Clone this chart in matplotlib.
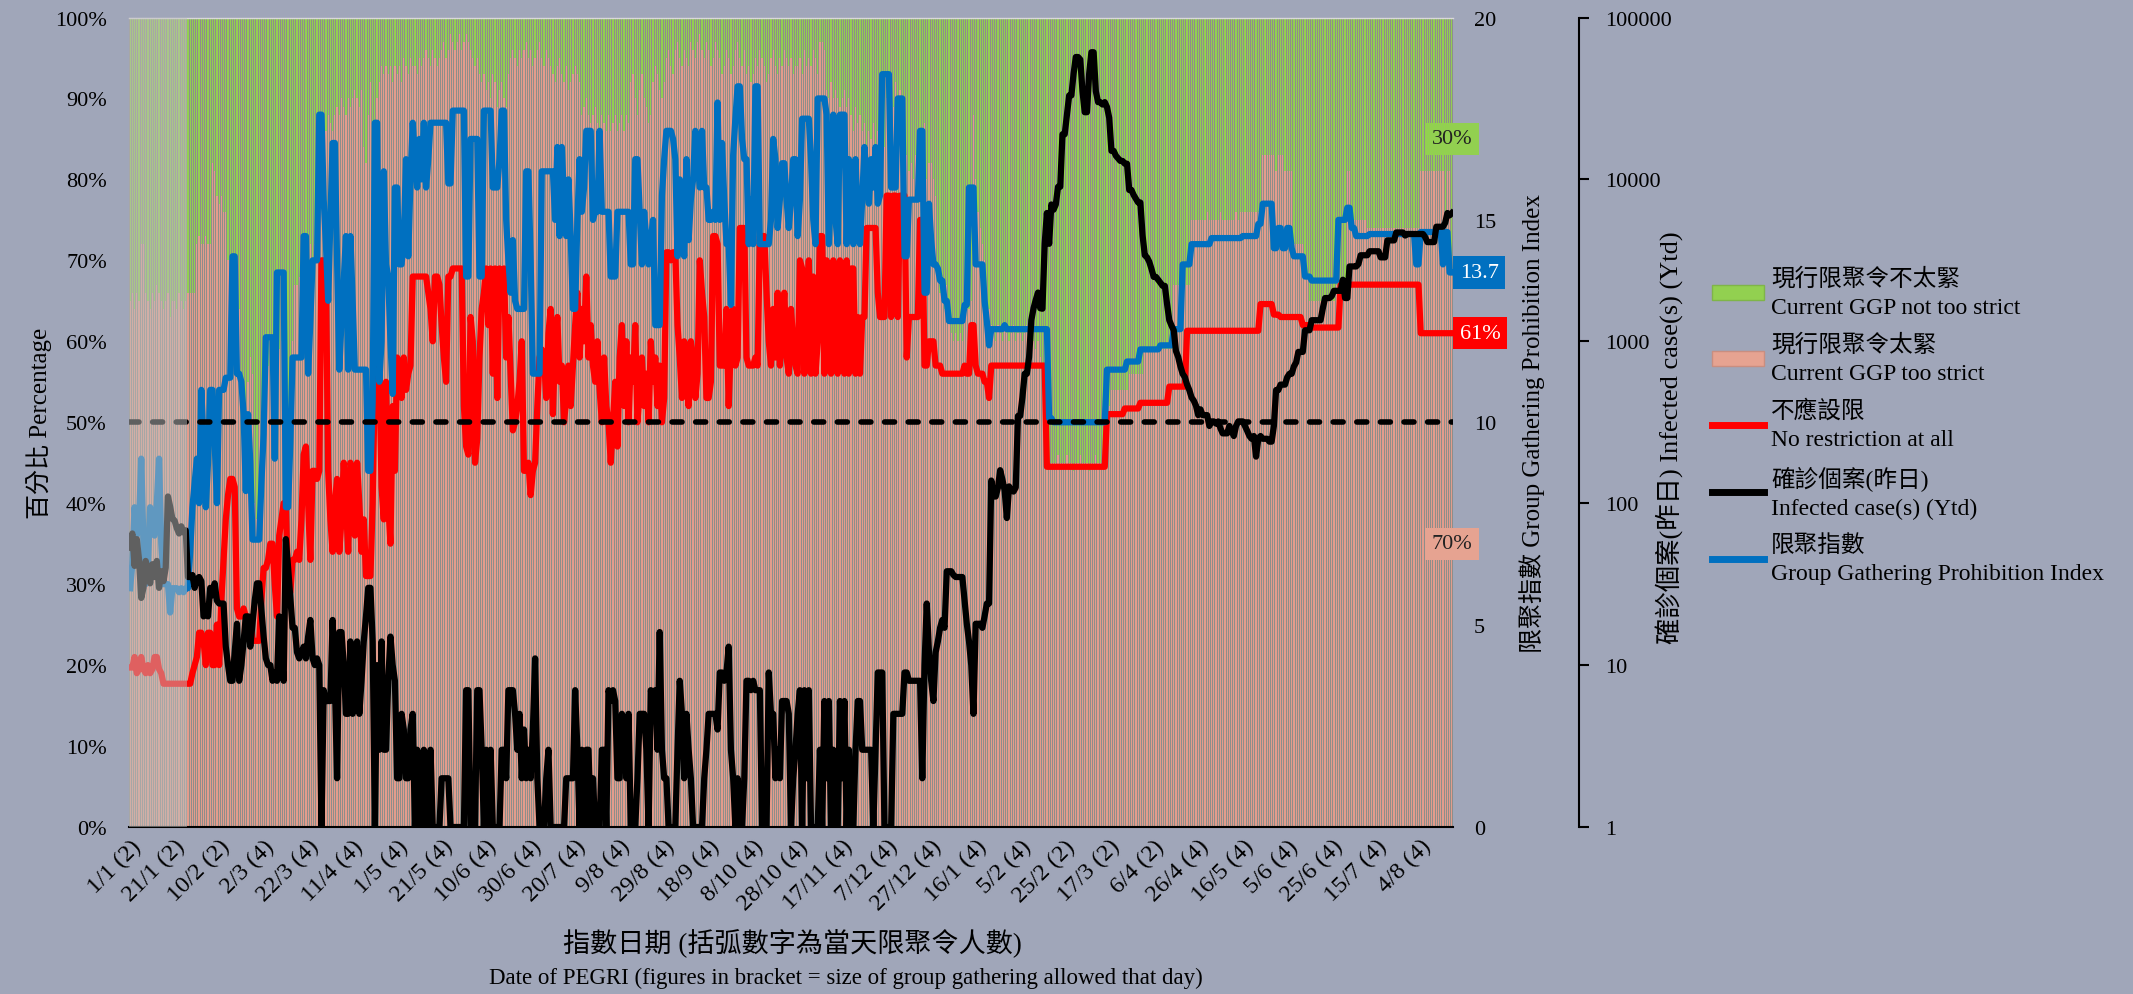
import numpy as np
import matplotlib
matplotlib.use('Agg')
import matplotlib.pyplot as plt
from matplotlib.lines import Line2D
from matplotlib.patches import Patch
from matplotlib.ticker import FixedLocator, FuncFormatter, NullLocator

plt.rcParams['font.family'] = ['Liberation Serif', 'Noto Sans CJK TC']
plt.rcParams['font.size'] = 16

# one value per day from 1/1/2021, one line per 20 days
# 現行限聚令太緊 (%), the rest of each bar is 現行限聚令不太緊
too_strict = [
    65, 66, 64, 66, 65, 72, 72, 66, 65, 64, 66, 65, 67, 66, 65, 64, 65, 66, 63, 65,
    65, 64, 66, 65, 64, 65, 66, 66, 66, 66, 72, 73, 72, 72, 73, 72, 72, 82, 81, 78,
    77, 78, 76, 76, 70, 66, 62, 58, 60, 64, 56, 52, 48, 55, 58, 56, 40, 38, 50, 49,
    49, 52, 57, 60, 58, 61, 57, 59, 60, 58, 40, 37, 45, 60, 67, 67, 68, 69, 70, 72,
    71, 72, 70, 72, 74, 76, 86, 87, 86, 88, 87, 86, 88, 89, 88, 90, 89, 88, 90, 89,
    90, 91, 90, 89, 91, 84, 82, 88, 92, 85, 83, 90, 92, 94, 93, 94, 93, 94, 92, 94,
    93, 94, 92, 95, 94, 93, 95, 94, 94, 93, 95, 94, 95, 96, 95, 94, 96, 95, 94, 95,
    96, 97, 95, 96, 98, 97, 96, 97, 98, 96, 97, 98, 97, 96, 95, 94, 95, 93, 92, 93,
    91, 92, 90, 93, 92, 89, 91, 92, 90, 89, 93, 95, 96, 95, 94, 96, 95, 96, 97, 95,
    96, 94, 95, 96, 97, 95, 94, 96, 95, 94, 93, 92, 94, 95, 93, 92, 94, 91, 92, 93,
    94, 93, 92, 88, 89, 90, 88, 87, 88, 89, 87, 86, 88, 87, 86, 88, 86, 87, 88, 86,
    87, 88, 86, 88, 87, 92, 93, 90, 88, 91, 93, 90, 89, 87, 88, 92, 94, 93, 91, 90,
    92, 95, 96, 94, 93, 96, 97, 95, 94, 96, 95, 94, 97, 96, 95, 97, 98, 96, 95, 97,
    96, 94, 95, 97, 96, 95, 93, 94, 96, 95, 93, 94, 96, 97, 95, 94, 96, 93, 94, 92,
    93, 95, 94, 96, 95, 94, 92, 93, 95, 96, 94, 93, 95, 94, 96, 95, 94, 95, 93, 94,
    94, 95, 93, 96, 94, 95, 94, 96, 95, 93, 97, 97, 96, 91, 90, 92, 90, 91, 90, 89,
    90, 91, 89, 90, 88, 86, 89, 87, 88, 86, 87, 84, 86, 85, 87, 84, 86, 85, 87, 84,
    90, 92, 91, 89, 92, 90, 91, 89, 90, 83, 81, 82, 80, 83, 82, 86, 84, 87, 80, 82,
    82, 80, 78, 69, 66, 68, 64, 67, 65, 61, 60, 61, 60, 61, 60, 65, 66, 64, 65, 88,
    80, 76, 74, 72, 70, 66, 64, 62, 61, 60, 62, 61, 60, 62, 61, 60, 61, 62, 60, 61,
    61, 60, 61, 62, 60, 61, 60, 59, 60, 58, 57, 57, 57, 45, 45, 45, 45, 46, 45, 45,
    45, 46, 45, 45, 44, 45, 45, 46, 45, 45, 45, 44, 45, 45, 46, 45, 45, 45, 52, 52,
    52, 54, 54, 54, 54, 54, 54, 54, 54, 56, 56, 56, 56, 56, 56, 56, 59, 59, 59, 59,
    59, 59, 59, 59, 59, 59, 59, 59, 59, 67, 67, 67, 67, 67, 67, 67, 67, 75, 75, 75,
    75, 75, 75, 75, 76, 75, 75, 75, 75, 75, 76, 75, 75, 75, 75, 75, 75, 76, 75, 76,
    76, 76, 76, 76, 76, 76, 76, 76, 76, 83, 83, 83, 83, 83, 83, 81, 83, 83, 83, 81,
    81, 81, 81, 72, 72, 72, 72, 72, 68, 68, 65, 65, 65, 65, 65, 65, 65, 65, 65, 65,
    65, 65, 67, 67, 67, 67, 67, 81, 81, 75, 75, 75, 75, 75, 75, 75, 74, 74, 74, 74,
    74, 74, 74, 74, 74, 74, 74, 74, 74, 74, 74, 74, 74, 74, 74, 74, 74, 74, 74, 74,
    81, 81, 81, 81, 81, 81, 81, 81, 81, 81, 81, 74, 81, 81, 70,
]

# 不應設限 (%)
no_restrict = [
    19.7, 19.7, 21, 19, 19.5, 21, 19.5, 19, 20, 19, 19.5, 21, 21, 19.5, 19, 17.7, 17.7, 17.7, 17.7, 17.7,
    17.7, 17.7, 17.7, 17.7, 17.7, 17.7, 17.7, 17.7, 19, 20, 21, 24, 24, 23, 20, 24, 24, 20, 20, 25,
    20, 28, 33, 38, 41, 43, 43, 42, 27, 26, 26, 27, 26, 25, 26, 23, 23, 23, 23, 28,
    32, 32, 33, 35, 35, 30, 26, 36, 38, 40, 40, 29, 29, 33, 33, 34, 33, 38, 46, 47,
    40, 33, 44, 44, 43, 44, 70, 70, 68, 44, 38, 34, 40, 43, 34, 38, 45, 40, 34, 45,
    44, 36, 45, 40, 34, 38, 31, 31, 31, 40, 56, 54, 57, 42, 38, 55, 40, 35, 52, 44,
    58, 57, 53, 58, 54, 56, 57, 68, 68, 68, 68, 68, 68, 68, 66, 64, 60, 68, 68, 67,
    62, 58, 55, 68, 68, 69, 69, 69, 69, 69, 52, 47, 46, 63, 60, 45, 48, 58, 64, 66,
    69, 62, 69, 56, 69, 53, 69, 65, 69, 58, 63, 56, 49, 50, 52, 55, 60, 44, 44, 45,
    41, 44, 45, 52, 58, 59, 58, 53, 61, 64, 51, 60, 63, 55, 57, 50, 53, 57, 52, 57,
    62, 66, 58, 64, 60, 68, 58, 62, 57, 55, 60, 54, 50, 58, 52, 50, 45, 50, 55, 47,
    58, 62, 52, 60, 50, 58, 55, 62, 50, 54, 58, 52, 56, 50, 60, 55, 58, 52, 57, 50,
    53, 71, 71, 70, 71, 71, 62, 58, 53, 60, 55, 52, 60, 58, 53, 56, 70, 66, 63, 53,
    53, 55, 73, 73, 72, 57, 57, 57, 64, 52, 60, 64, 57, 58, 74, 74, 74, 58, 57, 57,
    57, 58, 57, 73, 73, 73, 66, 60, 57, 64, 58, 66, 57, 62, 66, 58, 56, 64, 60, 57,
    56, 70, 69, 56, 62, 70, 56, 68, 56, 60, 73, 73, 56, 70, 68, 56, 70, 58, 56, 70,
    69, 56, 70, 56, 69, 69, 56, 63, 56, 63, 63, 74, 74, 74, 74, 74, 66, 63, 63, 63,
    78, 78, 63, 78, 78, 63, 78, 78, 78, 58, 63, 63, 63, 63, 63, 75, 75, 57, 57, 60,
    60, 60, 57, 57, 57, 56, 56, 56, 56, 56, 56, 56, 56, 56, 56, 57, 56, 56, 62, 62,
    57, 56, 56, 56, 55, 55, 53, 57, 57, 57, 57, 57, 57, 57, 57, 57, 57, 57, 57, 57,
    57, 57, 57, 57, 57, 57, 57, 57, 57, 57, 57, 57, 44.5, 44.5, 44.5, 44.5, 44.5, 44.5, 44.5, 44.5,
    44.5, 44.5, 44.5, 44.5, 44.5, 44.5, 44.5, 44.5, 44.5, 44.5, 44.5, 44.5, 44.5, 44.5, 44.5, 44.5, 44.5, 44.5, 44.5, 51,
    51, 51, 51, 51, 51, 51, 51, 51.7, 51.7, 51.7, 51.7, 51.7, 51.7, 51.7, 52.4, 52.4, 52.4, 52.4, 52.4, 52.4,
    52.4, 52.4, 52.4, 52.4, 52.4, 52.4, 52.4, 54.4, 54.4, 54.4, 54.4, 54.4, 54.4, 54.4, 54.4, 61.3, 61.3, 61.3, 61.3, 61.3,
    61.3, 61.3, 61.3, 61.3, 61.3, 61.3, 61.3, 61.3, 61.3, 61.3, 61.3, 61.3, 61.3, 61.3, 61.3, 61.3, 61.3, 61.3, 61.3, 61.3,
    61.3, 61.3, 61.3, 61.3, 61.3, 61.3, 61.3, 61.3, 64.6, 64.6, 64.6, 64.6, 64.6, 64.6, 63.3, 63.3, 63.3, 63, 63, 63,
    63, 63, 63, 63, 63, 63, 63, 62, 62, 62, 61.7, 61.7, 61.7, 61.7, 61.7, 61.7, 61.7, 61.7, 61.7, 61.7,
    61.7, 61.7, 61.7, 61.7, 67, 67, 67, 67, 67, 67, 67, 67, 67, 67, 67, 67, 67, 67, 67, 67,
    67, 67, 67, 67, 67, 67, 67, 67, 67, 67, 67, 67, 67, 67, 67, 67, 67, 67, 67, 67,
    61, 61, 61, 61, 61, 61, 61, 61, 61, 61, 61, 61, 61, 61, 61,
]

# 限聚指數 (0-20)
ggpi = [
    5.9, 6.5, 7.9, 7.2, 7.5, 9.1, 7.0, 6.0, 6.5, 7.9, 7.5, 7.2, 8.0, 9.1, 7.0, 6.0, 6.0, 6.0, 5.3, 5.9,
    5.9, 5.9, 5.8, 5.9, 5.8, 5.9, 5.9, 6.8, 7.9, 8.5, 9.1, 8.0, 10.8, 9.5, 7.9, 9.0, 10.8, 10.8, 9.5, 8.0,
    10.8, 10.8, 10.8, 11.1, 11.1, 11.1, 14.1, 14.1, 11.2, 11.2, 11.0, 10.2, 8.3, 10.2, 9.0, 7.1, 7.1, 7.1, 7.1, 8.5,
    9.7, 12.1, 12.1, 12.1, 12.1, 9.1, 13.7, 13.7, 13.7, 13.7, 7.9, 7.9, 9.5, 11.6, 11.6, 11.6, 11.6, 11.6, 14.6, 14.6,
    11.2, 12.5, 14.0, 14.0, 14.0, 17.6, 17.6, 15.5, 14.4, 13.0, 15.0, 16.9, 16.9, 14.0, 11.3, 12.5, 13.5, 14.6, 11.3, 14.6,
    13.0, 11.3, 11.3, 11.3, 11.3, 11.3, 11.3, 8.8, 8.8, 10.5, 17.4, 17.4, 11.0, 12.0, 16.2, 13.9, 13.6, 12.0, 10.7, 15.8,
    15.8, 13.9, 13.9, 14.5, 16.5, 14.1, 16.0, 17.4, 16.5, 15.8, 17.0, 16.0, 17.4, 15.8, 16.5, 17.4, 17.4, 17.4, 17.4, 17.4,
    17.4, 17.4, 17.4, 15.9, 15.9, 17.7, 17.7, 17.7, 17.7, 17.7, 17.7, 13.6, 13.6, 17.0, 17.0, 17.0, 17.0, 13.6, 13.6, 17.7,
    17.7, 17.7, 17.7, 15.8, 15.8, 15.8, 16.5, 17.7, 17.7, 15.0, 14.0, 13.2, 14.5, 13.0, 12.8, 12.8, 12.8, 12.8, 16.2, 16.2,
    14.0, 11.2, 11.2, 11.2, 11.2, 16.2, 16.2, 16.2, 16.2, 16.2, 16.2, 15.0, 16.8, 14.6, 16.8, 15.5, 14.6, 16.0, 14.6, 12.8,
    12.8, 15.0, 16.5, 15.2, 15.8, 17.2, 17.2, 17.2, 15.0, 15.2, 15.2, 17.2, 15.2, 15.2, 15.2, 15.2, 13.6, 13.6, 13.6, 15.2,
    15.2, 15.2, 15.2, 15.2, 15.2, 13.9, 13.9, 16.5, 16.5, 15.2, 13.9, 15.2, 14.5, 13.9, 14.5, 15.0, 12.4, 12.4, 12.4, 15.6,
    16.5, 17.2, 17.2, 17.2, 17.0, 16.5, 14.1, 16.0, 15.0, 14.1, 16.5, 14.5, 15.5, 16.0, 17.2, 16.5, 15.8, 17.2, 15.8, 15.8,
    15.0, 15.0, 15.2, 15.0, 17.9, 15.0, 16.9, 15.5, 14.4, 14.4, 12.9, 16.6, 17.5, 18.3, 18.3, 17.0, 16.5, 16.5, 14.4, 15.5,
    14.4, 18.3, 18.3, 14.4, 14.4, 14.4, 14.4, 14.4, 15.0, 17.0, 16.5, 14.8, 15.5, 16.4, 16.4, 15.5, 14.8, 15.5, 16.5, 16.5,
    14.6, 15.5, 17.5, 17.5, 17.5, 17.5, 16.5, 15.0, 14.4, 18.0, 18.0, 18.0, 18.0, 17.6, 14.4, 16.0, 17.6, 15.0, 14.4, 17.6,
    17.6, 17.6, 14.4, 16.5, 15.5, 14.4, 16.5, 15.0, 14.4, 15.5, 16.8, 16.0, 15.4, 16.5, 15.8, 16.8, 15.4, 15.6, 18.6, 18.6,
    18.6, 18.6, 15.8, 15.8, 15.8, 18.0, 18.0, 18.0, 14.1, 14.1, 15.5, 15.5, 15.5, 15.5, 15.5, 17.2, 17.2, 13.2, 13.2, 15.4,
    14.5, 13.9, 13.9, 13.8, 13.5, 13.5, 13.0, 13.0, 12.5, 12.5, 12.5, 12.5, 12.5, 12.5, 12.5, 12.9, 12.9, 15.8, 15.8, 15.8,
    13.9, 13.9, 13.9, 13.9, 13.0, 12.5, 11.9, 12.3, 12.3, 12.3, 12.3, 12.3, 12.3, 12.4, 12.3, 12.3, 12.3, 12.3, 12.3, 12.3,
    12.3, 12.3, 12.3, 12.3, 12.3, 12.3, 12.3, 12.3, 12.3, 12.3, 12.3, 12.3, 12.3, 10.1, 10.1, 10.0, 10.0, 10.0, 10.0, 10.0,
    10.0, 10.0, 10.0, 10.0, 10.0, 10.0, 10.0, 10.0, 10.0, 10.0, 10.0, 10.0, 10.0, 10.0, 10.0, 10.0, 10.0, 10.0, 10.0, 11.3,
    11.3, 11.3, 11.3, 11.3, 11.3, 11.3, 11.3, 11.3, 11.5, 11.5, 11.5, 11.5, 11.5, 11.5, 11.8, 11.8, 11.8, 11.8, 11.8, 11.8,
    11.8, 11.8, 11.8, 11.9, 11.9, 11.9, 11.9, 11.9, 11.9, 12.3, 12.3, 12.3, 12.3, 13.9, 13.9, 13.9, 13.9, 14.4, 14.4, 14.4,
    14.4, 14.4, 14.4, 14.4, 14.4, 14.4, 14.55, 14.55, 14.55, 14.55, 14.55, 14.55, 14.55, 14.55, 14.55, 14.55, 14.55, 14.55, 14.55, 14.55,
    14.6, 14.6, 14.6, 14.6, 14.6, 14.6, 14.6, 14.9, 14.9, 15.4, 15.4, 15.4, 15.4, 15.4, 14.3, 14.3, 14.8, 14.8, 14.3, 14.3,
    14.8, 14.8, 14.3, 14.1, 14.1, 14.1, 14.1, 14.1, 13.6, 13.6, 13.6, 13.5, 13.5, 13.5, 13.5, 13.5, 13.5, 13.5, 13.5, 13.5,
    13.5, 13.5, 13.5, 15.0, 15.0, 15.0, 15.0, 15.3, 15.3, 14.8, 14.8, 14.6, 14.6, 14.6, 14.6, 14.6, 14.6, 14.65, 14.65, 14.65,
    14.65, 14.65, 14.65, 14.65, 14.65, 14.65, 14.65, 14.65, 14.65, 14.65, 14.65, 14.65, 14.65, 14.65, 14.65, 14.65, 14.65, 14.65, 13.9, 13.9,
    14.7, 14.7, 14.7, 14.7, 14.7, 14.7, 14.7, 14.7, 14.7, 14.7, 13.9, 14.7, 14.7, 13.7, 13.7,
]

# 確診個案(昨日)
cases = [
    53, 65, 41, 60, 45, 26, 30, 44, 38, 32, 42, 35, 44, 30, 38, 33, 40, 110, 95, 80,
    78, 70, 65, 72, 66, 68, 35, 35, 36, 30, 34, 35, 33, 20, 21, 20, 30, 27, 32, 25,
    24, 24, 24, 13, 10, 8, 8, 12, 18, 8, 10, 14, 20, 20, 13, 18, 25, 32, 32, 22,
    15, 11, 10, 10, 8, 9, 8, 20, 12, 8, 60, 40, 26, 17, 17, 12, 11, 12, 13, 11,
    15, 19, 11, 10, 11, 10, 0, 7, 6, 6, 6, 19, 8, 2, 16, 16, 10, 5, 5, 14,
    5, 12, 14, 5, 8, 14, 20, 30, 30, 14, 0, 10, 3, 14, 3, 3, 8, 15, 10, 8,
    2, 2, 5, 4, 2, 2, 4, 5, 0, 3, 0, 0, 3, 1, 0, 3, 0, 0, 0, 0,
    2, 2, 2, 2, 0, 0, 0, 0, 1, 0, 0, 7, 7, 0, 0, 0, 7, 7, 3, 0,
    3, 0, 3, 0, 1, 0, 0, 3, 3, 2, 7, 7, 7, 5, 3, 5, 2, 4, 2, 3,
    2, 4, 11, 2, 0, 0, 1, 2, 3, 1, 0, 0, 0, 0, 1, 0, 2, 2, 2, 2,
    7, 3, 0, 3, 0, 3, 3, 1, 2, 0, 0, 0, 3, 3, 1, 7, 6, 7, 6, 2,
    2, 5, 4, 2, 5, 0, 0, 1, 2, 5, 5, 5, 3, 1, 7, 6, 7, 3, 16, 3,
    2, 2, 0, 0, 0, 0, 3, 8, 5, 2, 5, 3, 2, 0, 1, 0, 0, 0, 2, 3,
    5, 5, 5, 5, 4, 9, 9, 8, 9, 13, 3, 2, 1, 2, 0, 0, 2, 8, 8, 7,
    8, 7, 7, 7, 0, 1, 0, 9, 5, 5, 2, 3, 2, 6, 6, 6, 5, 1, 2, 3,
    5, 7, 1, 7, 2, 7, 0, 0, 0, 0, 3, 1, 6, 2, 6, 0, 3, 0, 0, 6,
    2, 6, 0, 3, 0, 1, 3, 6, 6, 3, 3, 3, 3, 3, 1, 3, 9, 9, 9, 0,
    0, 0, 0, 5, 5, 5, 5, 5, 9, 9, 8, 8, 8, 8, 8, 8, 2, 10, 24, 12,
    8, 6, 12, 14, 17, 19, 17, 38, 38, 38, 36, 35, 35, 35, 35, 25, 18, 14, 10, 5,
    18, 18, 18, 17, 20, 24, 24, 138, 110, 110, 125, 160, 140, 120, 81, 127, 120, 118, 125, 346,
    346, 450, 630, 630, 800, 1350, 1600, 1800, 2000, 1600, 1590, 4000, 6200, 4000, 7000, 6500, 7000, 9000, 9000, 19000,
    19000, 25000, 33000, 33000, 45000, 57000, 57000, 55000, 35000, 26000, 26000, 45000, 61000, 61000, 35000, 30000, 30000, 29000, 30000, 28000,
    24000, 15000, 15000, 14000, 13500, 13000, 13000, 12500, 12500, 8600, 8600, 8000, 7600, 7200, 7200, 4500, 3400, 3300, 3100, 2800,
    2500, 2500, 2400, 2300, 2200, 2200, 1700, 1350, 1250, 1170, 870, 800, 700, 630, 600, 540, 500, 450, 430, 400,
    350, 380, 350, 350, 350, 300, 320, 320, 310, 320, 290, 270, 270, 270, 300, 280, 260, 300, 320, 320,
    320, 300, 280, 260, 250, 260, 194, 250, 260, 250, 250, 250, 240, 240, 300, 500, 500, 540, 540, 540,
    600, 630, 630, 700, 740, 860, 860, 860, 1170, 1170, 1170, 1350, 1350, 1350, 1350, 1350, 1600, 1850, 1850, 1850,
    1900, 2050, 2050, 2050, 2050, 2400, 1850, 1850, 2900, 2900, 2900, 2900, 3000, 3400, 3400, 3400, 3400, 3600, 3600, 3600,
    3600, 3600, 3300, 3300, 3300, 4200, 4200, 4200, 4200, 4700, 4700, 4700, 4700, 4500, 4600, 4600, 4600, 4600, 4600, 4600,
    4600, 4600, 4400, 4100, 4100, 4100, 4100, 5100, 5100, 5100, 5100, 5400, 6200, 6000, 6200,
]

tick_labels = ['1/1 (2)', '21/1 (2)', '10/2 (2)', '2/3 (4)', '22/3 (4)', '11/4 (4)',
               '1/5 (4)', '21/5 (4)', '10/6 (4)', '30/6 (4)', '20/7 (4)', '9/8 (4)',
               '29/8 (4)', '18/9 (4)', '8/10 (4)', '28/10 (4)', '17/11 (4)', '7/12 (4)',
               '27/12 (4)', '16/1 (4)', '5/2 (4)', '25/2 (2)', '17/3 (2)', '6/4 (2)',
               '26/4 (4)', '16/5 (4)', '5/6 (4)', '25/6 (4)', '15/7 (4)', '4/8 (4)']
faded_days = 26   # first days shown greyed out

too_strict = np.array(too_strict, dtype=float)
no_restrict = np.array(no_restrict, dtype=float)
ggpi = np.array(ggpi, dtype=float)
cases = np.array(cases, dtype=float)
n = len(too_strict)
assert len(no_restrict) == n and len(ggpi) == n and len(cases) == n
days = np.arange(n)

BG = '#A0A6B9'
GREEN = '#92D050'
PINK = '#E39C8C'
RED = '#FF0000'
BLUE = '#0070C0'

fig = plt.figure(figsize=(21.33, 9.95), dpi=100, facecolor=BG)
ax = fig.add_axes([129 / 2133, 1 - 828 / 995, 1324 / 2133, 809.5 / 995])
# the bars fill the whole plot, so this colour only shows in the gaps between them
ax.set_facecolor('#8E8E8A')

ax.bar(days, too_strict, width=0.55, color=PINK, linewidth=0)
ax.bar(days, 100 - too_strict, bottom=too_strict, width=0.55, color=GREEN, linewidth=0)
ax.plot(days, no_restrict, color=RED, lw=4.5, solid_joinstyle='round')
ax.set_xlim(-0.5, n - 0.5)
ax.set_ylim(0, 100)
ax.yaxis.set_major_locator(FixedLocator(np.arange(0, 101, 10)))
ax.yaxis.set_major_formatter(FuncFormatter(lambda v, p: f'{v:.0f}%'))
ax.tick_params(axis='y', length=0, pad=16, labelsize=16)
ax.set_xticks(np.arange(0, n, 20))
ax.set_xticklabels(tick_labels)
ax.tick_params(axis='x', length=0, pad=6, labelsize=17.5)
plt.setp(ax.get_xticklabels(), rotation=45, ha='right', va='top', rotation_mode='anchor')
for s in ['left', 'right']:
    ax.spines[s].set_visible(False)
ax.spines['top'].set_color('#D9D9D9')
ax.spines['top'].set_linewidth(1)
ax.spines['bottom'].set_color('black')
ax.spines['bottom'].set_linewidth(1.5)
ax.set_ylabel('百分比 Percentage', fontsize=18)
ax.yaxis.set_label_coords(-0.058, 0.5)

ax2 = ax.twinx()
ax2.plot(days, ggpi, color=BLUE, lw=4.5, solid_joinstyle='round')
ax2.axhline(10, color='black', lw=4, linestyle=(0, (1.8, 2.45)), dash_capstyle='round')
ax2.set_ylim(0, 20)
ax2.yaxis.set_major_locator(FixedLocator([0, 5, 10, 15, 20]))
ax2.tick_params(axis='y', length=0, pad=15, labelsize=16)
for s in ax2.spines.values():
    s.set_visible(False)
ax2.set_ylabel('限聚指數 Group Gathering Prohibition Index', fontsize=18)
ax2.yaxis.set_label_coords(1.050, 0.5)

ax3 = ax.twinx()
ax3.plot(days, np.maximum(cases, 1), color='black', lw=4.5, solid_joinstyle='round')
ax3.set_yscale('log')
ax3.set_ylim(1, 1e5)
ax3.yaxis.set_major_locator(FixedLocator([1, 10, 100, 1000, 10000, 100000]))
ax3.yaxis.set_major_formatter(FuncFormatter(lambda v, p: f'{v:.0f}'))
ax3.yaxis.set_minor_locator(NullLocator())
for s in ['left', 'top', 'bottom']:
    ax3.spines[s].set_visible(False)
ax3.spines['right'].set_position(('axes', 1.095))
ax3.spines['right'].set_color('black')
ax3.spines['right'].set_linewidth(1.5)
ax3.tick_params(axis='y', length=7, width=1.5, direction='out', pad=12, labelsize=16)
ax3.set_ylabel('確診個案(昨日) Infected case(s) (Ytd)', fontsize=19)
ax3.yaxis.set_label_coords(1.153, 0.482)
ax3.axvspan(-0.5, faded_days - 0.4, color='#C0C0C0', alpha=0.5, lw=0, zorder=10)

# value boxes at the last day
last = n - 1
ax3.annotate(f'{100 - too_strict[-1]:.0f}%', xy=(last, (too_strict[-1] + 100) / 2),
             xycoords=ax.transData, ha='center', va='center', fontsize=16,
             color='#222222', zorder=20, annotation_clip=False,
             bbox=dict(boxstyle='square,pad=0.3', fc=GREEN, ec='none'))
ax3.annotate(f'{too_strict[-1]:.0f}%', xy=(last, too_strict[-1] / 2),
             xycoords=ax.transData, ha='center', va='center', fontsize=16,
             color='#222222', zorder=20, annotation_clip=False,
             bbox=dict(boxstyle='square,pad=0.3', fc='#E6A391', ec='none'))
ax3.annotate(f'{ggpi[-1]:.1f}', xy=(1.0, ggpi[-1]),
             xycoords=(ax.transAxes, ax2.transData), xytext=(5, 0), textcoords='offset points',
             ha='left', va='center', fontsize=16, color='white', zorder=20,
             annotation_clip=False,
             bbox=dict(boxstyle='square,pad=0.3', fc=BLUE, ec='none'))
ax3.annotate(f'{no_restrict[-1]:.0f}%', xy=(1.0, no_restrict[-1]),
             xycoords=(ax.transAxes, ax.transData), xytext=(5, 0), textcoords='offset points',
             ha='left', va='center', fontsize=16, color='white', zorder=20,
             annotation_clip=False,
             bbox=dict(boxstyle='square,pad=0.3', fc=RED, ec='none'))

fig.text(792 / 2133, 1 - 943 / 995, '指數日期 (括弧數字為當天限聚令人數)',
         ha='center', va='center', fontsize=19.5)
fig.text(846 / 2133, 1 - 978 / 995,
         'Date of PEGRI (figures in bracket = size of group gathering allowed that day)',
         ha='center', va='center', fontsize=16.5)

handles = [Patch(facecolor=GREEN, edgecolor='#7FB548'),
           Patch(facecolor='#E6A391', edgecolor='#C98E80'),
           Line2D([], [], color=RED, lw=5),
           Line2D([], [], color='black', lw=5),
           Line2D([], [], color=BLUE, lw=5)]
labels = ['現行限聚令不太緊\nCurrent GGP not too strict',
          '現行限聚令太緊\nCurrent GGP too strict',
          '不應設限\nNo restriction at all',
          '確診個案(昨日)\nInfected case(s) (Ytd)',
          '限聚指數\nGroup Gathering Prohibition Index']
leg = fig.legend(handles, labels, loc='upper left', bbox_to_anchor=(1712 / 2133, 1 - 268 / 995),
                 frameon=False, fontsize=17, handlelength=2.2, handleheight=0.6,
                 handletextpad=0.3, labelspacing=0.65, borderpad=0, borderaxespad=0)
for t in leg.get_texts():
    t.set_linespacing(1.45)

fig.savefig('out.png', dpi=100, facecolor=BG)
